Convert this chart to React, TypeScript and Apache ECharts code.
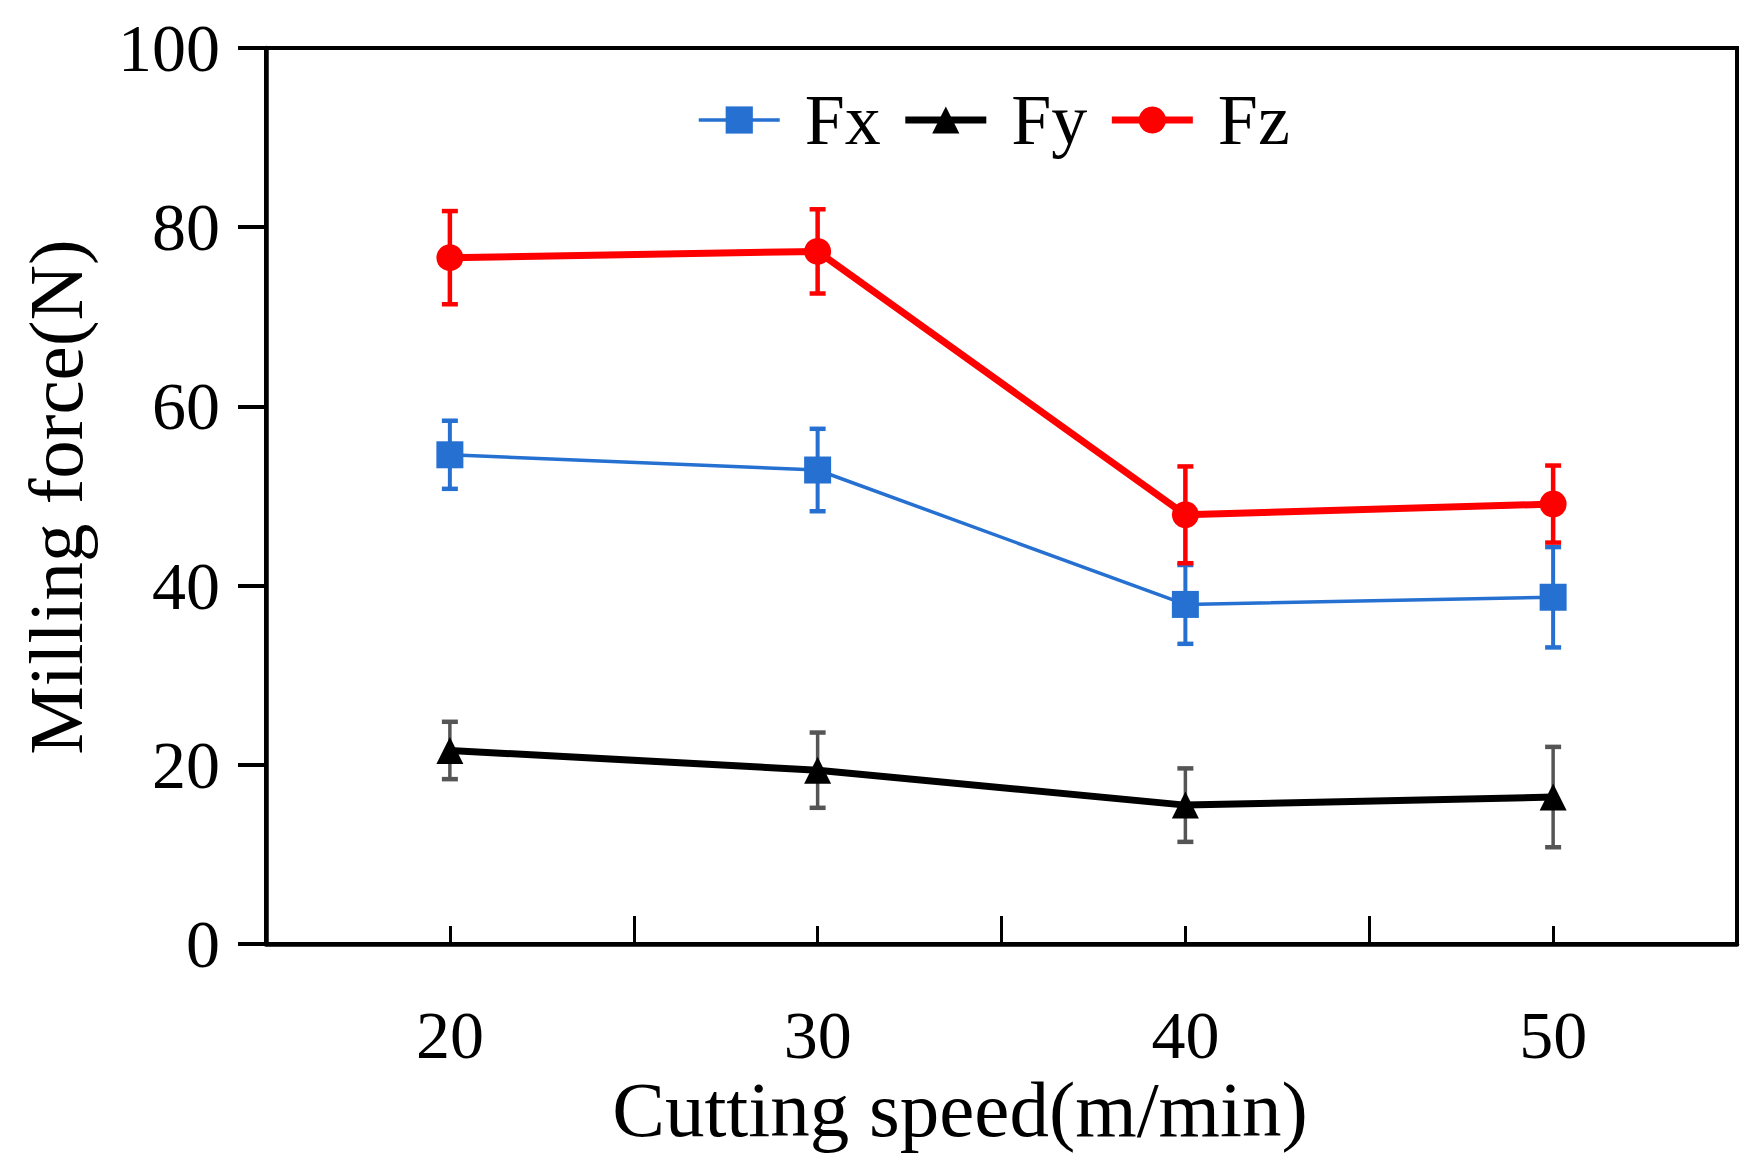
import React, { useEffect, useRef } from "react";
import * as echarts from "echarts";

const cuttingSpeed = [20, 30, 40, 50];
const fxValues = [54.6, 52.9, 37.9, 38.7];
const fxErrors = [3.8, 4.6, 4.4, 5.6];
const fyValues = [21.6, 19.4, 15.5, 16.4];
const fyErrors = [3.2, 4.2, 4.1, 5.6];
const fzValues = [76.6, 77.3, 47.9, 49.1];
const fzErrors = [5.2, 4.7, 5.4, 4.3];
const yTicks = [0, 20, 40, 60, 80, 100];
const xTickLabels = ["20", "30", "40", "50"];

const FONT = "'Liberation Serif', 'Times New Roman', serif";
const BLUE = "#2570D0";
const RED = "#FF0000";
const BLACK = "#000000";
const GREY = "#555555";

function errorSeries(name: string, values: number[], errors: number[], color: string, width: number) {
  return {
    name,
    type: "custom",
    xAxisIndex: 0,
    yAxisIndex: 0,
    z: 1,
    encode: { x: 0, y: 1 },
    data: values.map((v, i) => [cuttingSpeed[i], v, errors[i]]),
    renderItem: (_params: any, api: any) => {
      const x = api.value(0);
      const y = api.value(1);
      const e = api.value(2);
      const top = api.coord([x, y + e]);
      const bot = api.coord([x, y - e]);
      const half = 8;
      const style = { stroke: color, lineWidth: width };
      return {
        type: "group",
        children: [
          { type: "line", shape: { x1: top[0], y1: top[1], x2: bot[0], y2: bot[1] }, style },
          { type: "line", shape: { x1: top[0] - half, y1: top[1], x2: top[0] + half, y2: top[1] }, style: { stroke: color, lineWidth: 4.5 } },
          { type: "line", shape: { x1: bot[0] - half, y1: bot[1], x2: bot[0] + half, y2: bot[1] }, style: { stroke: color, lineWidth: 4.5 } },
        ],
      };
    },
  };
}

export default function App() {
  const ref = useRef<HTMLDivElement>(null);
  useEffect(() => {
    if (!ref.current) return;
    const chart = echarts.init(ref.current, undefined, { renderer: "svg" });
    chart.setOption({
      animation: false,
      backgroundColor: "#ffffff",
      textStyle: { fontFamily: FONT, color: "#000" },
      grid: {
        left: 266,
        right: 27,
        top: 48,
        bottom: 220,
        show: true,
        borderColor: "#000",
        borderWidth: 4,
        containLabel: false,
      },
      legend: {
        left: 697,
        top: 84,
        padding: 0,
        itemWidth: 81,
        itemHeight: 34,
        itemGap: 21,
        data: ["Fx", "Fy", "Fz"],
        lineStyle: { width: "inherit" },
        textStyle: { fontFamily: FONT, fontSize: 72, color: "#000", padding: [0, 0, 0, 20] },
      },
      xAxis: [
        {
          type: "value",
          min: 15,
          max: 55,
          interval: 5,
          position: "bottom",
          axisLine: { show: true, lineStyle: { color: "#000", width: 4.5 } },
          axisTick: { show: true, inside: true, length: 18, lineStyle: { color: "#000", width: 3 } },
          axisLabel: {
            show: true,
            margin: 57,
            fontSize: 68,
            fontFamily: FONT,
            color: "#000",
            formatter: (v: number) => (xTickLabels.includes(String(v)) ? String(v) : ""),
          },
          splitLine: { show: false },
        },
        {
          type: "value",
          min: 15,
          max: 55,
          interval: 10,
          position: "bottom",
          offset: 0,
          axisLine: { show: false },
          axisTick: { show: true, inside: true, length: 28, lineStyle: { color: "#000", width: 3 } },
          axisLabel: { show: false },
          splitLine: { show: false },
        },
      ],
      yAxis: {
        type: "value",
        min: yTicks[0],
        max: yTicks[yTicks.length - 1],
        interval: 20,
        axisLine: { show: true, lineStyle: { color: "#000", width: 4.5 } },
        axisTick: { show: true, inside: false, length: 28, lineStyle: { color: "#000", width: 4 } },
        axisLabel: { margin: 46, fontSize: 68, fontFamily: FONT, color: "#000" },
        splitLine: { show: false },
      },
      graphic: [
        {
          type: "text",
          x: 960,
          y: 1109,
          style: {
            text: "Cutting speed(m/min)",
            fontFamily: FONT,
            fontSize: 79,
            fill: "#000",
            align: "center",
            verticalAlign: "middle",
          },
        },
        {
          type: "text",
          x: 56,
          y: 497,
          rotation: Math.PI / 2,
          style: {
            text: "Milling force(N)",
            fontFamily: FONT,
            fontSize: 77,
            fill: "#000",
            align: "center",
            verticalAlign: "middle",
          },
        },
      ],
      series: [
        errorSeries("Fx err", fxValues, fxErrors, BLUE, 4),
        errorSeries("Fy err", fyValues, fyErrors, GREY, 3.5),
        errorSeries("Fz err", fzValues, fzErrors, RED, 4.5),
        {
          name: "Fx",
          type: "line",
          z: 3,
          data: cuttingSpeed.map((x, i) => [x, fxValues[i]]),
          symbol: "rect",
          symbolSize: 27,
          itemStyle: { color: BLUE },
          lineStyle: { color: BLUE, width: 3.5 },
        },
        {
          name: "Fy",
          type: "line",
          z: 3,
          data: cuttingSpeed.map((x, i) => [x, fyValues[i]]),
          symbol: "triangle",
          symbolSize: 27,
          itemStyle: { color: BLACK },
          lineStyle: { color: BLACK, width: 7 },
        },
        {
          name: "Fz",
          type: "line",
          z: 3,
          data: cuttingSpeed.map((x, i) => [x, fzValues[i]]),
          symbol: "circle",
          symbolSize: 27,
          itemStyle: { color: RED },
          lineStyle: { color: RED, width: 7 },
        },
      ],
    });
    return () => chart.dispose();
  }, []);
  return (
    <div
      ref={ref}
      style={{ position: "fixed", left: 0, top: 0, width: 1764, height: 1164, background: "#fff" }}
    />
  );
}
